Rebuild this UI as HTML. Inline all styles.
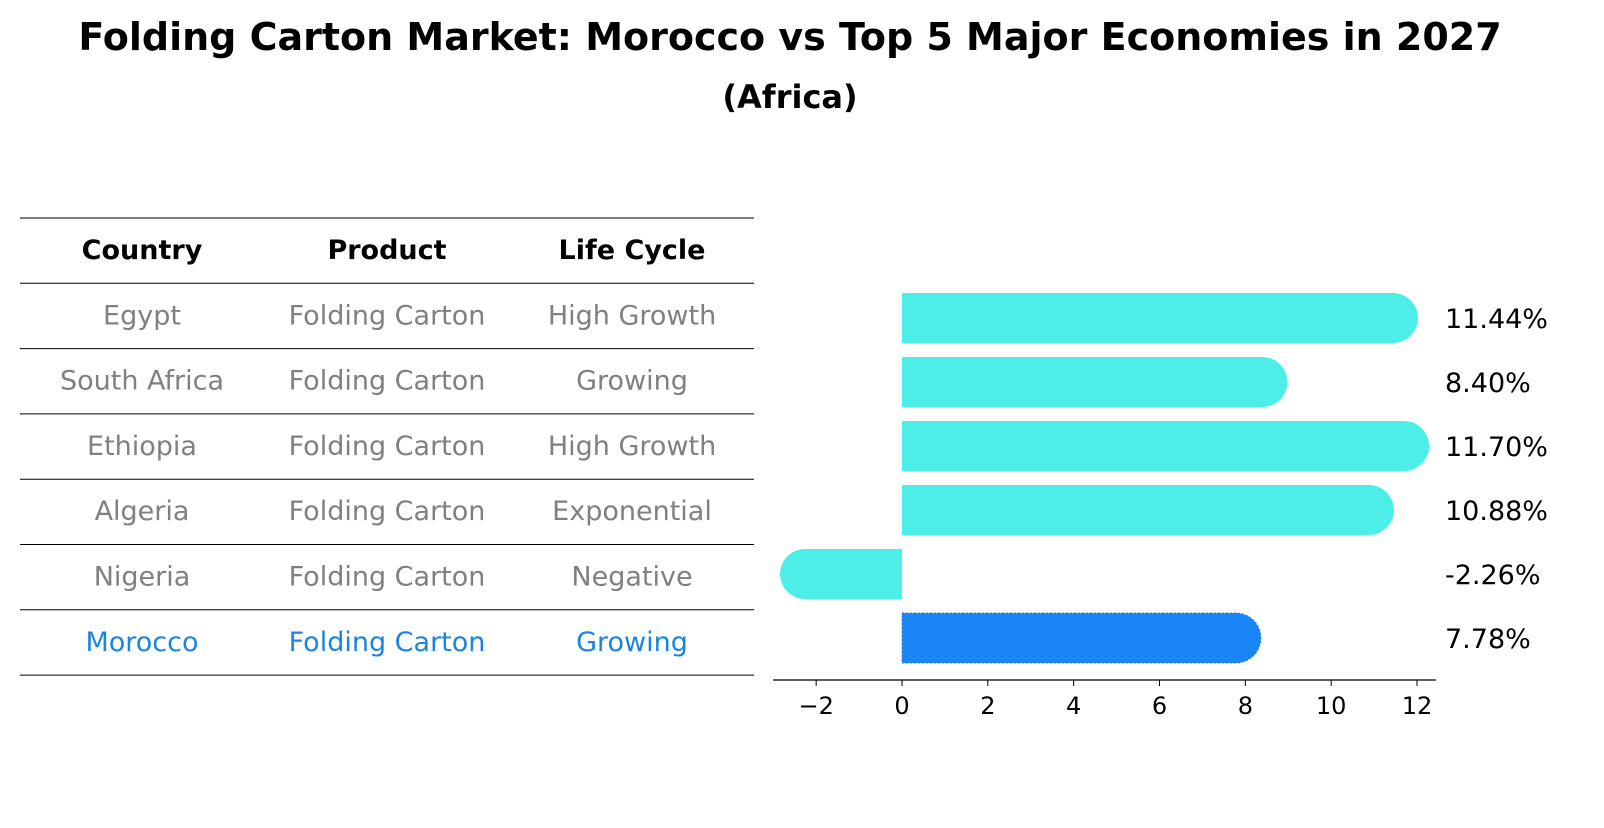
<!DOCTYPE html>
<html><head><meta charset="utf-8">
<style>
body{margin:0;background:#fff;width:1604px;height:823px;overflow:hidden;font-family:"Liberation Sans","DejaVu Sans",sans-serif;}
svg text{font-family:"DejaVu Sans","Liberation Sans",sans-serif;}
</style></head>
<body>
<svg id="chart" width="1604" height="823">
<text x="790" y="50" text-anchor="middle" font-size="38" font-weight="bold">Folding Carton Market: Morocco vs Top 5 Major Economies in 2027</text>
<text x="790" y="108" text-anchor="middle" font-size="32" font-weight="bold">(Africa)</text>
<g id="table"></g>
<g id="bars"></g>
</svg>
<script>
const countries=["Egypt","South Africa","Ethiopia","Algeria","Nigeria","Morocco"];
const products=["Folding Carton","Folding Carton","Folding Carton","Folding Carton","Folding Carton","Folding Carton"];
const lifeCycles=["High Growth","Growing","High Growth","Exponential","Negative","Growing"];
const values=[11.44,8.40,11.70,10.88,-2.26,7.78];
const ticks=[-2,0,2,4,6,8,10,12];
const NS="http://www.w3.org/2000/svg";
function mk(tag,attrs,parent){const e=document.createElementNS(NS,tag);for(const k in attrs)e.setAttribute(k,attrs[k]);parent.appendChild(e);return e;}
const tbl=document.getElementById('table');
const rowY=i=>218+65.3*i;
for(let i=0;i<=7;i++){const l=mk('line',{x1:20,x2:754,y1:rowY(i),y2:rowY(i),stroke:'#000','stroke-width':1},tbl);

}
const colX=[142,387,632];
["Country","Product","Life Cycle"].forEach((h,j)=>{const t=mk('text',{x:colX[j],y:rowY(0)+41,'text-anchor':'middle','font-size':27,'font-weight':'bold'},tbl);t.textContent=h;

});
countries.forEach((c,i)=>{const col=i===5?'#1a85e0':'#808080';[c,products[i],lifeCycles[i]].forEach((v,j)=>{const t=mk('text',{x:colX[j],y:rowY(i+1)+41,'text-anchor':'middle','font-size':27,fill:col},tbl);t.textContent=v;

});});
const g=document.getElementById('bars');
const xs=v=>902+v*(1417-902)/12;
const yc=i=>318+64*i;
const r=25;
values.forEach((v,i)=>{const x0=xs(0),x1=xs(v);const col=i===5?'#1a85f5':'#4eeee8';
let d;
if(v>=0)d=`M${x0},${yc(i)-r}H${x1}A${r},${r} 0 0 1 ${x1},${yc(i)+r}H${x0}Z`;
else d=`M${x0},${yc(i)-r}H${x1}A${r},${r} 0 0 0 ${x1},${yc(i)+r}H${x0}Z`;
const p=mk('path',{d:d,fill:col},g);
if(i===5){p.setAttribute('stroke','#3a7fd0');p.setAttribute('stroke-dasharray','2,2');}


const t=mk('text',{x:1445,y:yc(i)+10,'font-size':27},g);t.textContent=v.toFixed(2)+'%';

});
const ax=mk('line',{x1:773,x2:1436,y1:680,y2:680,stroke:'#000','stroke-width':1.3},g);


ticks.forEach(tv=>{const tk=mk('line',{x1:xs(tv),x2:xs(tv),y1:680,y2:686,stroke:'#000'},g);


const t=mk('text',{x:xs(tv),y:714,'text-anchor':'middle','font-size':24},g);t.textContent=tv<0?'\u2212'+(-tv):tv;

});
</script>
</body></html>
